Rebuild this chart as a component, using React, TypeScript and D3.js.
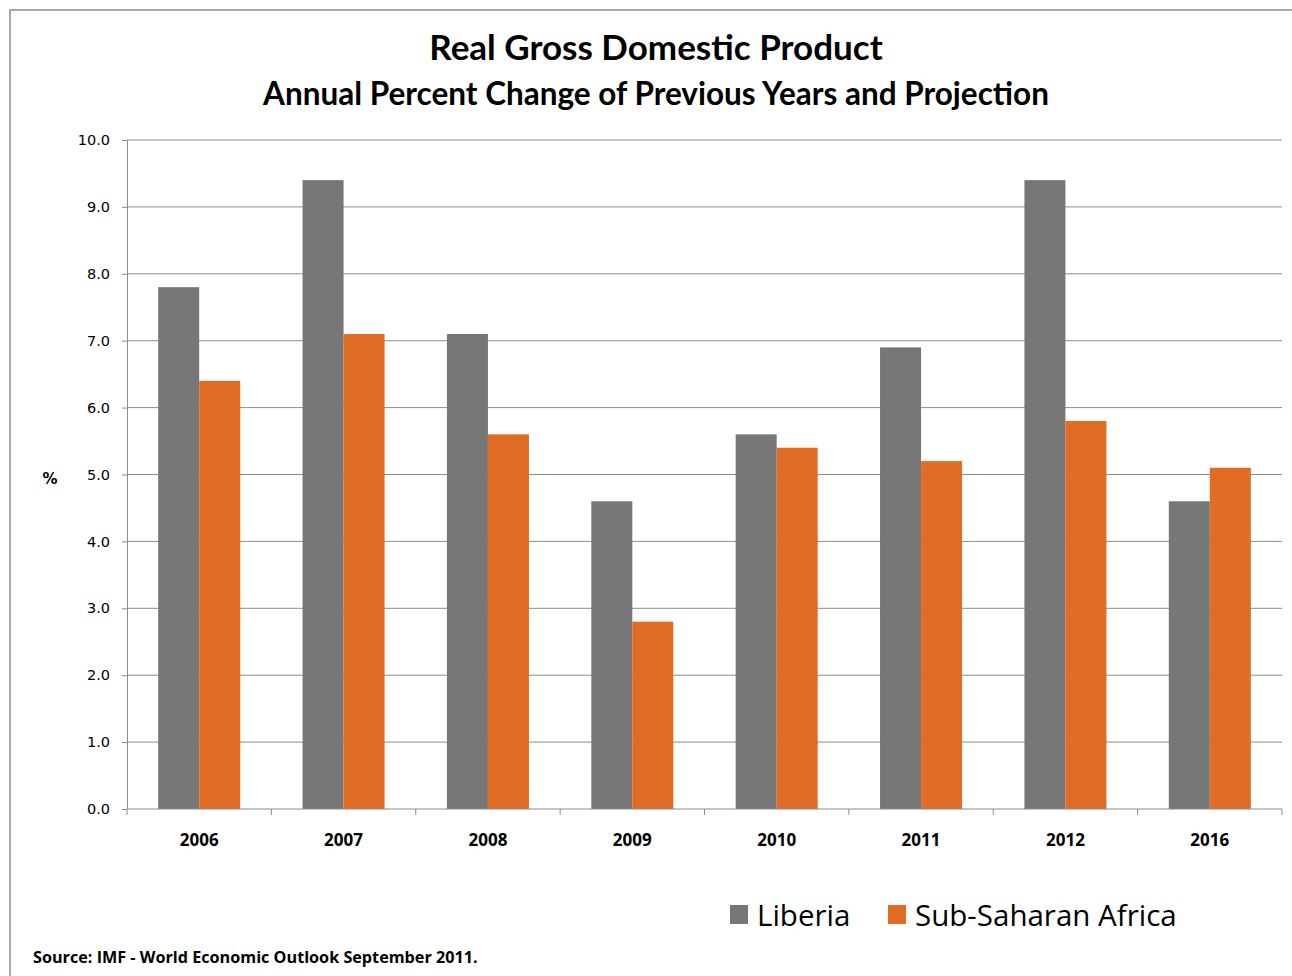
import { useEffect, useRef } from 'react'
import * as d3 from 'd3'

const years = ['2006', '2007', '2008', '2009', '2010', '2011', '2012', '2016']
const liberia = [7.8, 9.4, 7.1, 4.6, 5.6, 6.9, 9.4, 4.6]
const subSaharan = [6.4, 7.1, 5.6, 2.8, 5.4, 5.2, 5.8, 5.1]
const yTicks = [0, 1, 2, 3, 4, 5, 6, 7, 8, 9, 10]
const seriesNames = ['Liberia', 'Sub-Saharan Africa']

const GRAY = '#777777'
const ORANGE = '#e06c26'

export default function App() {
  const svgRef = useRef<SVGSVGElement>(null)

  useEffect(() => {
    if (!svgRef.current) return
    const svg = d3.select(svgRef.current)
    svg.selectAll('*').remove()

    const width = 1292
    const height = 976
    const margin = { top: 140, right: 10, bottom: 167, left: 127 }
    const innerWidth = width - margin.left - margin.right
    const innerHeight = height - margin.top - margin.bottom

    svg.append('rect').attr('width', width).attr('height', height).attr('fill', '#fff')

    // outer frame (cropped at right / bottom)
    svg.append('path')
      .attr('d', `M10,${height + 5} L10,10 L${width + 5},10`)
      .attr('fill', 'none')
      .attr('stroke', '#a8a8a8')
      .attr('stroke-width', 2)

    const titleFont = 'Lato, "Open Sans", sans-serif'

    svg.append('text')
      .attr('x', 656).attr('y', 60)
      .attr('text-anchor', 'middle')
      .attr('font-family', titleFont)
      .attr('font-weight', 'bold')
      .attr('font-size', 35)
      .attr('fill', '#000')
      .text('Real Gross Domestic Product')

    svg.append('text')
      .attr('x', 656).attr('y', 105)
      .attr('text-anchor', 'middle')
      .attr('font-family', titleFont)
      .attr('font-weight', 'bold')
      .attr('font-size', 31.5)
      .attr('fill', '#000')
      .text('Annual Percent Change of Previous Years and Projection')

    const x0 = d3.scaleBand<string>()
      .domain(years)
      .range([0, innerWidth])
      .paddingInner(0)
      .paddingOuter(0)

    const x1 = d3.scaleBand<string>()
      .domain(seriesNames)
      .range([0, x0.bandwidth()])
      .paddingOuter(0.76)
      .paddingInner(0)

    const y = d3.scaleLinear().domain([0, 10]).range([innerHeight, 0])

    const g = svg.append('g').attr('transform', `translate(${margin.left},${margin.top})`)

    // gridlines
    g.selectAll('.grid')
      .data(yTicks.filter(d => d > 0))
      .enter()
      .append('line')
      .attr('x1', 0).attr('x2', innerWidth)
      .attr('y1', d => y(d)).attr('y2', d => y(d))
      .attr('stroke', '#8c8c8c')
      .attr('stroke-width', 1)

    // bars
    const groups = g.selectAll('.grp')
      .data(years)
      .enter()
      .append('g')
      .attr('transform', d => `translate(${x0(d)},0)`)

    groups.append('rect')
      .attr('x', x1('Liberia')!)
      .attr('y', (_, i) => y(liberia[i]))
      .attr('width', x1.bandwidth())
      .attr('height', (_, i) => innerHeight - y(liberia[i]))
      .attr('fill', GRAY)

    groups.append('rect')
      .attr('x', x1('Sub-Saharan Africa')!)
      .attr('y', (_, i) => y(subSaharan[i]))
      .attr('width', x1.bandwidth())
      .attr('height', (_, i) => innerHeight - y(subSaharan[i]))
      .attr('fill', ORANGE)

    // y axis
    const yAxis = g.append('g')
      .call(d3.axisLeft(y).tickValues(yTicks).tickSize(5).tickPadding(12).tickFormat(d => (d as number).toFixed(1)))
    yAxis.select('.domain').attr('stroke', '#8c8c8c').attr('d', `M-5,0.5H0.5V${innerHeight}`)
    yAxis.selectAll('.tick line').attr('stroke', '#8c8c8c')
    yAxis.selectAll('.tick text')
      .attr('font-family', '"DejaVu Sans", Verdana, sans-serif')
      .attr('font-size', 14.5)
      .attr('fill', '#000')

    // x axis
    const xAxis = g.append('g').attr('transform', `translate(0,${innerHeight})`)
    xAxis.append('line')
      .attr('x1', 0).attr('x2', innerWidth)
      .attr('stroke', '#8c8c8c')
    xAxis.selectAll('.xt')
      .data([...years.map(d => x0(d)!), innerWidth])
      .enter()
      .append('line')
      .attr('x1', d => d).attr('x2', d => d)
      .attr('y1', 0).attr('y2', 6)
      .attr('stroke', '#8c8c8c')
    xAxis.selectAll('.xl')
      .data(years)
      .enter()
      .append('text')
      .attr('x', d => x0(d)! + x0.bandwidth() / 2)
      .attr('y', 37)
      .attr('text-anchor', 'middle')
      .attr('font-family', '"Open Sans", sans-serif')
      .attr('font-weight', 'bold')
      .attr('font-size', 17)
      .attr('fill', '#000')
      .text(d => d)

    // y axis unit
    svg.append('text')
      .attr('x', 50).attr('y', 484)
      .attr('text-anchor', 'middle')
      .attr('font-family', '"DejaVu Sans", sans-serif')
      .attr('font-weight', 'bold')
      .attr('font-size', 15)
      .attr('fill', '#000')
      .text('%')

    // legend
    const legendItems = [
      { name: seriesNames[0], color: GRAY, x: 730 },
      { name: seriesNames[1], color: ORANGE, x: 888 },
    ]
    const legend = svg.selectAll('.lg')
      .data(legendItems)
      .enter()
      .append('g')
      .attr('transform', d => `translate(${d.x},905)`)
    legend.append('rect')
      .attr('width', 18).attr('height', 19)
      .attr('fill', d => d.color)
    legend.append('text')
      .attr('x', 27).attr('y', 21)
      .attr('font-family', '"Open Sans", sans-serif')
      .attr('font-size', 29.5)
      .attr('fill', '#000')
      .text(d => d.name)

    // source
    svg.append('text')
      .attr('x', 33).attr('y', 963)
      .attr('font-family', '"Open Sans", sans-serif')
      .attr('font-weight', 'bold')
      .attr('font-size', 16.2)
      .attr('fill', '#000')
      .text('Source: IMF - World Economic Outlook September 2011.')
  }, [])

  return (
    <svg
      ref={svgRef}
      width={1292}
      height={976}
      style={{ position: 'absolute', left: 0, top: 0, display: 'block' }}
    />
  )
}
